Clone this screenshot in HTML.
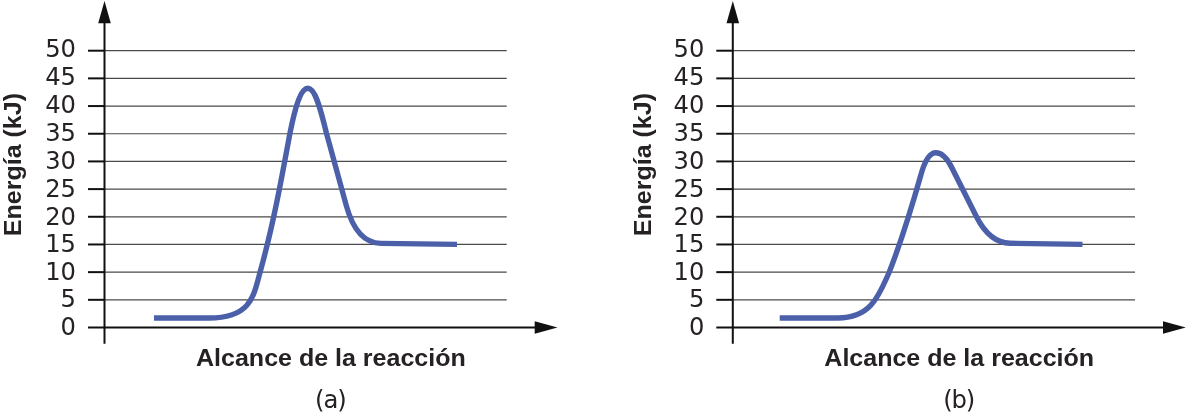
<!DOCTYPE html>
<html lang="es"><head><meta charset="utf-8"><title>Energía vs. alcance de la reacción</title>
<style>
html,body{margin:0;padding:0;background:#fff}
svg{display:block}
.g{stroke:#4a4a4a;stroke-width:1.2}
.t{stroke:#111;stroke-width:2}
.a{fill:#111}
.n{font-family:"DejaVu Sans","Liberation Sans",sans-serif;font-size:24.2px;fill:#262223;text-anchor:end;letter-spacing:0px}
.xl{font-family:"Liberation Sans",sans-serif;font-weight:bold;font-size:23.7px;fill:#262223;text-anchor:middle}
.yl{font-family:"Liberation Sans",sans-serif;font-weight:bold;font-size:23.7px;fill:#262223;text-anchor:middle}
.cap{font-family:"DejaVu Sans","Liberation Sans",sans-serif;font-size:24.3px;fill:#262223;text-anchor:middle;letter-spacing:-1.1px}
.c{fill:none;stroke:#4c60aa;stroke-width:5.4;stroke-linejoin:round}
</style></head><body>
<svg width="1186" height="413" viewBox="0 0 1186 413">
<rect width="1186" height="413" fill="#fff"/>
<line x1="104.5" y1="299.82" x2="506.7" y2="299.82" class="g"/>
<line x1="104.5" y1="272.14" x2="506.7" y2="272.14" class="g"/>
<line x1="104.5" y1="244.46" x2="506.7" y2="244.46" class="g"/>
<line x1="104.5" y1="216.78" x2="506.7" y2="216.78" class="g"/>
<line x1="104.5" y1="189.10" x2="506.7" y2="189.10" class="g"/>
<line x1="104.5" y1="161.42" x2="506.7" y2="161.42" class="g"/>
<line x1="104.5" y1="133.74" x2="506.7" y2="133.74" class="g"/>
<line x1="104.5" y1="106.06" x2="506.7" y2="106.06" class="g"/>
<line x1="104.5" y1="78.38" x2="506.7" y2="78.38" class="g"/>
<line x1="104.5" y1="50.70" x2="506.7" y2="50.70" class="g"/>
<line x1="88.0" y1="327.50" x2="104.5" y2="327.50" class="t"/>
<text x="76.0" y="335" class="n">0</text>
<line x1="88.0" y1="299.82" x2="104.5" y2="299.82" class="t"/>
<text x="76.0" y="307" class="n">5</text>
<line x1="88.0" y1="272.14" x2="104.5" y2="272.14" class="t"/>
<text x="76.0" y="280" class="n">10</text>
<line x1="88.0" y1="244.46" x2="104.5" y2="244.46" class="t"/>
<text x="76.0" y="252" class="n">15</text>
<line x1="88.0" y1="216.78" x2="104.5" y2="216.78" class="t"/>
<text x="76.0" y="225" class="n">20</text>
<line x1="88.0" y1="189.10" x2="104.5" y2="189.10" class="t"/>
<text x="76.0" y="197" class="n">25</text>
<line x1="88.0" y1="161.42" x2="104.5" y2="161.42" class="t"/>
<text x="76.0" y="169" class="n">30</text>
<line x1="88.0" y1="133.74" x2="104.5" y2="133.74" class="t"/>
<text x="76.0" y="141" class="n">35</text>
<line x1="88.0" y1="106.06" x2="104.5" y2="106.06" class="t"/>
<text x="76.0" y="113" class="n">40</text>
<line x1="88.0" y1="78.38" x2="104.5" y2="78.38" class="t"/>
<text x="76.0" y="85" class="n">45</text>
<line x1="88.0" y1="50.70" x2="104.5" y2="50.70" class="t"/>
<text x="76.0" y="57" class="n">50</text>
<line x1="104.5" y1="22" x2="104.5" y2="343.8" class="t"/>
<line x1="104.5" y1="327.50" x2="535.5" y2="327.50" class="t"/>
<polygon points="104.5,1 98.2,23.3 110.8,23.3" class="a"/>
<polygon points="557.5,327.50 534.7,321.30 534.7,333.70" class="a"/>
<text transform="translate(330.9,366.3) scale(1.056,1)" class="xl">Alcance de la reacción</text>
<text transform="translate(21.1,164.6) rotate(-90) scale(1.056,1)" class="yl">Energía (kJ)</text>
<text x="330.4" y="408" class="cap">(a)</text>
<path class="c" d="M154 318 L209 318 C250 318 253.6 297.3 260.1 272 C273.05 225.8 281.4 179.6 289.9 133.4 C295.8 104 301.4 88.2 307.9 88.2 C314.9 88.2 320 106.4 326.5 133.4 L346.3 205.6 C350.8 222 360 243 381 243.4 L457 244.4"/>
<line x1="732.8" y1="299.82" x2="1135.0" y2="299.82" class="g"/>
<line x1="732.8" y1="272.14" x2="1135.0" y2="272.14" class="g"/>
<line x1="732.8" y1="244.46" x2="1135.0" y2="244.46" class="g"/>
<line x1="732.8" y1="216.78" x2="1135.0" y2="216.78" class="g"/>
<line x1="732.8" y1="189.10" x2="1135.0" y2="189.10" class="g"/>
<line x1="732.8" y1="161.42" x2="1135.0" y2="161.42" class="g"/>
<line x1="732.8" y1="133.74" x2="1135.0" y2="133.74" class="g"/>
<line x1="732.8" y1="106.06" x2="1135.0" y2="106.06" class="g"/>
<line x1="732.8" y1="78.38" x2="1135.0" y2="78.38" class="g"/>
<line x1="732.8" y1="50.70" x2="1135.0" y2="50.70" class="g"/>
<line x1="716.3" y1="327.50" x2="732.8" y2="327.50" class="t"/>
<text x="704.3" y="335" class="n">0</text>
<line x1="716.3" y1="299.82" x2="732.8" y2="299.82" class="t"/>
<text x="704.3" y="307" class="n">5</text>
<line x1="716.3" y1="272.14" x2="732.8" y2="272.14" class="t"/>
<text x="704.3" y="280" class="n">10</text>
<line x1="716.3" y1="244.46" x2="732.8" y2="244.46" class="t"/>
<text x="704.3" y="252" class="n">15</text>
<line x1="716.3" y1="216.78" x2="732.8" y2="216.78" class="t"/>
<text x="704.3" y="225" class="n">20</text>
<line x1="716.3" y1="189.10" x2="732.8" y2="189.10" class="t"/>
<text x="704.3" y="197" class="n">25</text>
<line x1="716.3" y1="161.42" x2="732.8" y2="161.42" class="t"/>
<text x="704.3" y="169" class="n">30</text>
<line x1="716.3" y1="133.74" x2="732.8" y2="133.74" class="t"/>
<text x="704.3" y="141" class="n">35</text>
<line x1="716.3" y1="106.06" x2="732.8" y2="106.06" class="t"/>
<text x="704.3" y="113" class="n">40</text>
<line x1="716.3" y1="78.38" x2="732.8" y2="78.38" class="t"/>
<text x="704.3" y="85" class="n">45</text>
<line x1="716.3" y1="50.70" x2="732.8" y2="50.70" class="t"/>
<text x="704.3" y="57" class="n">50</text>
<line x1="732.8" y1="22" x2="732.8" y2="343.8" class="t"/>
<line x1="732.8" y1="327.50" x2="1163.8" y2="327.50" class="t"/>
<polygon points="732.8,1 726.5,23.3 739.1,23.3" class="a"/>
<polygon points="1185.8,327.50 1163.0,321.30 1163.0,333.70" class="a"/>
<text transform="translate(959.2,366.3) scale(1.056,1)" class="xl">Alcance de la reacción</text>
<text transform="translate(650.6,164.6) rotate(-90) scale(1.056,1)" class="yl">Energía (kJ)</text>
<text x="958.7" y="408" class="cap">(b)</text>
<path class="c" d="M779.7 318 L838 318 C872 318 879.4 293.8 889.3 272 C902 239.5 911.8 207 921 174.5 C924.5 162 929.5 152.8 935.9 152.8 C942.5 152.8 947.5 159 952 168 L976.6 217 C983.5 230.5 994 242.8 1010 243.3 L1082.5 244.4"/>
</svg>
</body></html>
